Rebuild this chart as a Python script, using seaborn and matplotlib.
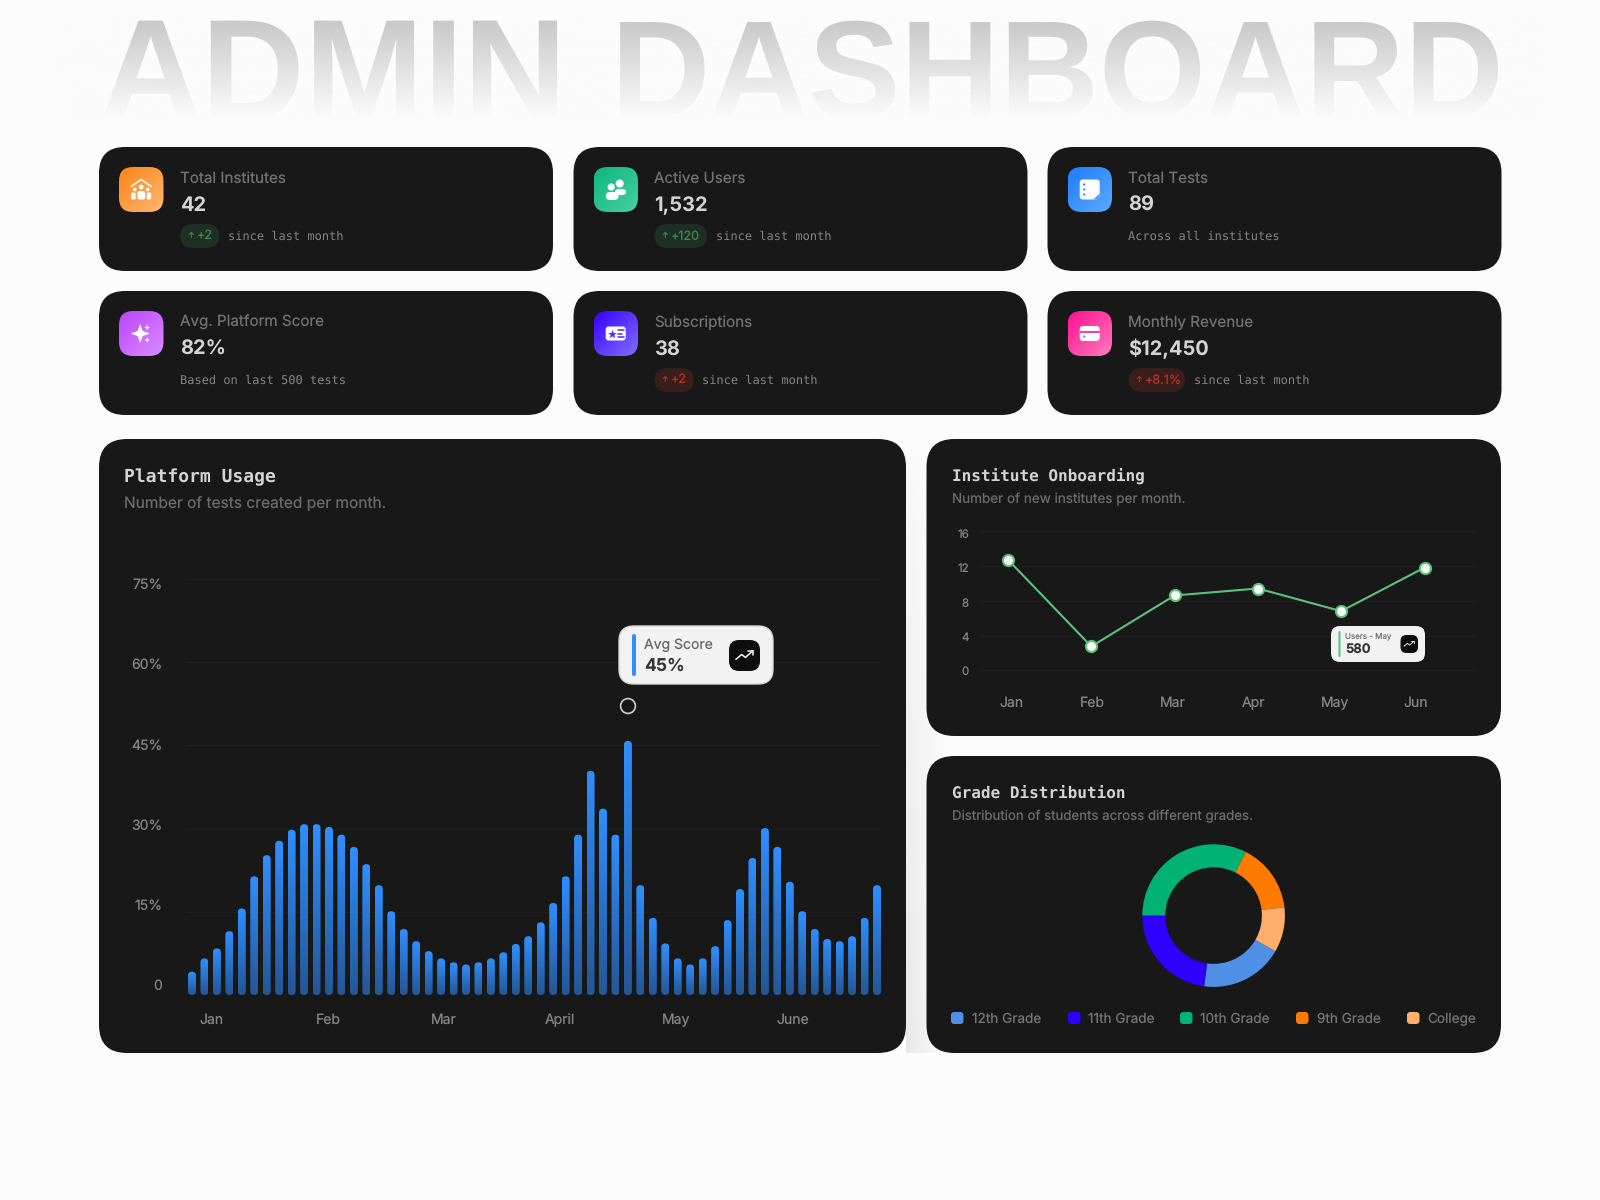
import numpy as np
import matplotlib
matplotlib.use('Agg')
import matplotlib.pyplot as plt
import seaborn as sns
from matplotlib.patches import FancyBboxPatch, Circle, Polygon
from matplotlib.colors import to_rgb

# data
card_labels = ['Total Institutes', 'Active Users', 'Total Tests',
               'Avg. Platform Score', 'Subscriptions', 'Monthly Revenue']
card_values = ['42', '1,532', '89', '82%', '38', '$12,450']
card_badges = ['+2', '+120', None, None, '+2', '+8.1%']
card_notes = ['since last month', 'since last month', 'Across all institutes',
              'Based on last 500 tests', 'since last month', 'since last month']

usage_values = [4.2, 6.6, 8.4, 11.5, 15.6, 21.4, 25.2, 27.8, 29.8, 30.8, 30.8, 30.3, 28.9, 26.7,
                23.6, 19.8, 15.1, 11.9, 9.7, 7.9, 6.6, 5.9, 5.5, 5.9, 6.6, 7.7, 9.2, 10.6,
                13.1, 16.6, 21.4, 28.9, 40.4, 33.6, 28.9, 45.8, 19.8, 13.9, 9.3, 6.6, 5.5, 6.6,
                8.8, 13.5, 19.1, 24.7, 30.1, 26.7, 20.4, 15.1, 11.9, 10.1, 9.7, 10.6, 13.9, 19.8]
usage_months = ['Jan', 'Feb', 'Mar', 'April', 'May', 'June']
usage_grid = [0, 15, 30, 45, 60, 75]
usage_ticks = ['0', '15%', '30%', '45%', '60%', '75%']

onboard_months = ['Jan', 'Feb', 'Mar', 'Apr', 'May', 'Jun']
onboard_values = [12.7, 2.75, 8.6, 9.4, 6.8, 11.8]
onboard_grid = [0, 4, 8, 12, 16]

grade_names = ['12th Grade', '11th Grade', '10th Grade', '9th Grade', 'College']
grade_values = [18.8, 22.9, 32.4, 15.7, 10.2]
grade_colors = ['#4F8FE6', '#2E00FF', '#00B274', '#FF7A00', '#FFAE6B']

BG = '#FCFCFC'
CARD = '#181818'
SANS = ['Inter', 'DejaVu Sans']
MONO = ['DejaVu Sans Mono']

sns.set_theme(style='white')
plt.rcParams['font.family'] = SANS
plt.rcParams['text.hinting'] = 'no_hinting'

fig = plt.figure(figsize=(16, 12), dpi=100, facecolor=BG)


def rect(l, t, r, b):
    return [l / 1600, 1 - b / 1200, (r - l) / 1600, (b - t) / 1200]


def pt(px):
    return px * 0.72


def overlay(z):
    a = fig.add_axes([0, 0, 1, 1], zorder=z)
    a.set_xlim(0, 1600)
    a.set_ylim(1200, 0)
    a.axis('off')
    return a


back = overlay(0)
front = overlay(3)


def rbox(a, l, t, r, b, rad, color, z=2, **kw):
    p = FancyBboxPatch((l, t), r - l, b - t, boxstyle=f'round,pad=0,rounding_size={rad}',
                       fc=color, ec=kw.pop('ec', 'none'), lw=kw.pop('lw', 0), zorder=z, **kw)
    a.add_patch(p)
    return p


def txt(a, x, y, s, px, color, family=SANS, weight='normal', ha='left', va='center', z=6):
    a.text(x, y, s, fontsize=pt(px), color=color, family=family, weight=weight,
           ha=ha, va=va, zorder=z)


def grad_box(a, l, t, r, b, rad, c1, c2, z=3):
    # diagonal gradient clipped to a rounded box
    n = 64
    u, v = np.meshgrid(np.linspace(0, 1, n), np.linspace(0, 1, n))
    m = ((u + v) / 2)[..., None]
    img = np.array(to_rgb(c1)) * (1 - m) + np.array(to_rgb(c2)) * m
    im = a.imshow(img, extent=(l, r, b, t), aspect='auto', zorder=z, interpolation='bilinear')
    clip = rbox(a, l, t, r, b, rad, 'none', z=z)
    im.set_clip_path(clip)


def trend_icon(a, cx, cy, s, z=9):
    a.plot([cx - 9 * s, cx - 3 * s, cx + 1 * s, cx + 9 * s],
           [cy + 4 * s, cy - 1 * s, cy + 2 * s, cy - 5 * s], color='#F0F0F0', lw=1.2 * s, zorder=z)
    a.plot([cx + 4 * s, cx + 9 * s, cx + 9 * s], [cy - 5 * s, cy - 5 * s, cy - 1 * s],
           color='#F0F0F0', lw=1.2 * s, zorder=z)


def star4(a, cx, cy, s, color='white', z=7):
    k = 0.27
    pts = [(0, -s), (k * s, -k * s), (s, 0), (k * s, k * s), (0, s), (-k * s, k * s), (-s, 0), (-k * s, -k * s)]
    a.add_patch(Polygon([(cx + x, cy + y) for x, y in pts], fc=color, ec='none', zorder=z))


def draw_icon(a, i, cx, cy):
    W = 'white'
    if i == 0:
        a.plot([cx - 10, cx, cx + 10], [cy - 3, cy - 10, cy - 3], color=W, lw=1.1, zorder=7)
        for dx, dy, r in [(0, -2.5, 2.4), (-6.5, 0, 1.8), (6.5, 0, 1.8)]:
            a.add_patch(Circle((cx + dx, cy + dy), r, fc=W, ec='none', zorder=7))
        rbox(a, cx - 4, cy + 1.5, cx + 4, cy + 10, 2.5, W, z=7)
        rbox(a, cx - 10, cy + 3, cx - 5.5, cy + 10, 1.5, W, z=7)
        rbox(a, cx + 5.5, cy + 3, cx + 10, cy + 10, 1.5, W, z=7)
    elif i == 1:
        a.add_patch(Circle((cx + 4, cy - 6), 4, fc=W, ec='none', zorder=7))
        a.add_patch(Circle((cx - 4.5, cy - 2.5), 3.6, fc=W, ec='none', zorder=7))
        rbox(a, cx - 1, cy - 0.5, cx + 10.5, cy + 5.5, 4, W, z=7)
        rbox(a, cx - 10, cy + 2.5, cx + 3, cy + 10.5, 4.5, W, z=7)
    elif i == 2:
        rbox(a, cx - 10, cy - 10, cx + 10, cy + 10, 3, W, z=7)
        for dy in [-5, 0, 5]:
            a.add_patch(Circle((cx - 5.5, cy + dy), 1.1, fc='#2A85FF', ec='none', zorder=8))
        a.add_patch(Polygon([(cx + 3.5, cy + 10), (cx + 10, cy + 4), (cx + 10, cy + 10)], fc='#4A9CFF', ec='none', zorder=8))
    elif i == 3:
        star4(a, cx - 1, cy, 9.5)
        star4(a, cx + 6, cy - 6, 3)
        star4(a, cx + 6, cy + 6.5, 3)
    elif i == 4:
        rbox(a, cx - 10, cy - 7, cx + 10, cy + 7, 3, W, z=7)
        a.scatter([cx - 4], [cy], marker='*', s=45, color='#4A2AFF', lw=0, zorder=8)
        for dy, w in [(-3.5, 6), (0, 4), (3.5, 6)]:
            a.plot([cx + 2, cx + 2 + w], [cy + dy, cy + dy], color='#4A2AFF', lw=1.1, zorder=8)
    else:
        rbox(a, cx - 10, cy - 7.5, cx + 10, cy + 7.5, 3.5, W, z=7)
        a.add_patch(plt.Rectangle((cx - 10, cy - 2.5), 20, 1.8, fc='#FF3FA4', ec='none', zorder=8))
        a.add_patch(Circle((cx - 5.5, cy + 3), 1.1, fc='#FF3FA4', ec='none', zorder=8))


# title with a fade into the page colour
back.text(333, 82, 'ADMIN', fontsize=103, color='#C6C6C6', weight='bold',
          family=['Liberation Sans'], ha='center', va='center', zorder=1)
back.text(1058, 81, 'DASHBOARD', fontsize=99, color='#C6C6C6', weight='bold',
          family=['Liberation Sans'], ha='center', va='center', zorder=1)
fade = np.zeros((128, 1, 4))
fade[..., :3] = to_rgb(BG)
fade[:, 0, 3] = np.linspace(0, 1, 128)
back.imshow(fade, extent=(60, 1540, 118, 16), aspect='auto', zorder=1.5)
# nothing of the letters below the fade
back.add_patch(plt.Rectangle((60, 118), 1480, 26, fc=BG, ec='none', zorder=1.6))

# soft shadow in the gap next to the big card, stronger towards the bottom
u, v = np.meshgrid(np.linspace(0, 1, 64), np.linspace(0, 1, 64))
shade = np.zeros((64, 64, 4))
shade[..., :3] = to_rgb('#C4C4C4')
shade[..., 3] = 0.36 * (1 - u) * v ** 0.6
back.imshow(shade, extent=(906, 945, 1053, 445), aspect='auto', zorder=1.5, interpolation='bilinear')

# stat cards
card_x = [99, 573.5, 1047.5]
card_y = [147, 291]
icon_cols = [('#FF8414', '#FFB874'), ('#0DB77D', '#4ACFA2'), ('#1B7DFF', '#5FAAFF'),
             ('#BB45FF', '#DB8CFF'), ('#3300FF', '#8470FF'), ('#FF0F8F', '#FF7CC0')]
badge_cols = [('#1E2F24', '#3F8A55'), ('#1E2F24', '#3F8A55'), None, None,
              ('#3A1E1C', '#B8322A'), ('#3A1E1C', '#B8322A')]
badge_w = [39.5, 52.5, 0, 0, 39.5, 56.5]

for i in range(6):
    l = card_x[i % 3]
    t = card_y[i // 3]
    rbox(back, l, t, l + 454, t + 124, 26, CARD)
    grad_box(back, l + 20, t + 20, l + 64.5, t + 65, 14, *icon_cols[i])
    draw_icon(back, i, l + 42.2, t + 42.5)
    tx = l + 81
    txt(back, tx, t + 31.5, card_labels[i], 15.2, '#727272')
    txt(back, tx, t + 58.5, card_values[i], 20, '#D4D4D4', weight='bold')
    if card_badges[i] is not None:
        bg_c, fg_c = badge_cols[i]
        rbox(back, tx, t + 77, tx + badge_w[i], t + 101, 13, bg_c, z=4)
        txt(back, tx + 7, t + 89, '↑', 8, fg_c)
        txt(back, tx + 16.5, t + 89, card_badges[i], 12.6, fg_c)
        txt(back, tx + badge_w[i] + 8.5, t + 89, card_notes[i], 12, '#858585', family=MONO)
    else:
        txt(back, tx, t + 89, card_notes[i], 12, '#858585', family=MONO)

# big cards
rbox(back, 99, 439, 906, 1053, 28, CARD)
rbox(back, 926.5, 439, 1501, 736, 28, CARD)
rbox(back, 926.5, 756, 1501, 1053, 28, CARD)
txt(back, 124.5, 477, 'Platform Usage', 18, '#D4D4D4', family=MONO, weight='bold')
txt(back, 124.5, 503, 'Number of tests created per month.', 15.5, '#6C6C6C')
txt(back, 951.5, 475.5, 'Institute Onboarding', 16, '#D4D4D4', family=MONO, weight='bold')
txt(back, 951.5, 499, 'Number of new institutes per month.', 13.5, '#6C6C6C')
txt(back, 951.5, 793, 'Grade Distribution', 16, '#D4D4D4', family=MONO, weight='bold')
txt(back, 951.5, 816.5, 'Distribution of students across different grades.', 13.3, '#6C6C6C')

# platform usage bars
px_l, px_r, px_b, px_t = 186, 881, 995, 579
bar_step = (877 - 192) / 55
ax = fig.add_axes(rect(px_l, px_t, px_r, px_b), zorder=1)
ax.patch.set_visible(False)
sns.barplot(x=list(range(len(usage_values))), y=usage_values, color='#2F8CFF', saturation=1,
            width=8 / bar_step, ax=ax, legend=False)
x0 = -(192 - px_l) / bar_step
x1 = x0 + (px_r - px_l) / bar_step
y_per_px = 75 / (px_b - px_t)
x_per_px = 1 / bar_step
ramp = np.zeros((64, 1, 3))
for c in range(3):
    ramp[:, 0, c] = np.linspace(to_rgb('#2F8FFF')[c], to_rgb('#245796')[c], 64)
for bar in list(ax.patches):
    bx, bw, bh = bar.get_x(), bar.get_width(), bar.get_height()
    bar.set_visible(False)
    shape = FancyBboxPatch((bx, 0), bw, bh, boxstyle=f'round,pad=0,rounding_size={4 * x_per_px}',
                           mutation_aspect=y_per_px / x_per_px, fc='none', ec='none', zorder=3)
    ax.add_patch(shape)
    im = ax.imshow(ramp, extent=(bx, bx + bw, 0, bh), aspect='auto', zorder=3, interpolation='bilinear')
    im.set_clip_path(shape)
ax.hlines(usage_grid, x0, x1, color='#1F1F1F', lw=0.7, zorder=1)
ax.set_xlim(x0, x1)
ax.set_ylim(0, 75)
# labels in the reference do not sit exactly on the grid
usage_label_px = [985, 905, 825, 744.5, 663.5, 583.5]
ax.set_yticks([(px_b - p) * y_per_px for p in usage_label_px], usage_ticks)
month_px = [212, 328, 444, 560, 676.5, 793]
ax.set_xticks([(p - 192) / bar_step for p in month_px], usage_months)
ax.tick_params(axis='y', length=0, pad=pt(23.5), labelsize=pt(14), labelcolor='#858585')
ax.tick_params(axis='x', length=0, pad=pt(18.5), labelsize=pt(14), labelcolor='#858585')
ax.set_xlabel('')
ax.set_ylabel('')
sns.despine(ax=ax, left=True, bottom=True)

# tooltip of the bars
rbox(front, 619, 626, 773, 684, 15, '#F2F2F2', ec='#D8D8D8', lw=1)
rbox(front, 632, 634, 636, 676, 2, '#2F8FFF', z=5)
txt(front, 644.5, 645, 'Avg Score', 14, '#666666')
txt(front, 644.5, 666, '45%', 17.5, '#333333', weight='bold')
rbox(front, 729, 640, 760, 671, 10, '#0E0E0E', z=5)
trend_icon(front, 744.5, 655.5, 0.95)
front.add_patch(Circle((628, 706), 7.4, fc='none', ec='#CFCFCF', lw=1.2, zorder=5))

# onboarding line
ol, or_, ob, ot = 980, 1476, 670.7, 531
step = (1424.5 - 1008) / 5
ax2 = fig.add_axes(rect(ol, ot, or_, ob), zorder=1)
ax2.patch.set_visible(False)
sns.lineplot(x=list(range(6)), y=onboard_values, color='#5CC27A', lw=1.5, marker='o', markersize=8,
             markerfacecolor='#F4FFF6', markeredgecolor='#5CC27A', markeredgewidth=1.5,
             ax=ax2, zorder=4, clip_on=False)
ox0 = -(1008 - ol) / step
ax2.set_xlim(ox0, ox0 + (or_ - ol) / step)
ax2.set_ylim(0, 16)
ax2.hlines(onboard_grid, *ax2.get_xlim(), color='#1F1F1F', lw=0.7, zorder=1)
onb_label_px = [671, 636.7, 602.3, 567.7, 533.3]
ax2.set_yticks([(ob - p) * 16 / (ob - ot) for p in onb_label_px], [str(v) for v in onboard_grid])
onb_month_px = [1011.5, 1092, 1173, 1254, 1335, 1416]
ax2.set_xticks([(p - 1008) / step for p in onb_month_px], onboard_months)
ax2.tick_params(axis='y', length=0, pad=pt(11), labelsize=pt(11.5), labelcolor='#858585')
ax2.tick_params(axis='x', length=0, pad=pt(25.5), labelsize=pt(14), labelcolor='#858585')
sns.despine(ax=ax2, left=True, bottom=True)

rbox(front, 1331, 626, 1425, 662, 9, '#F2F2F2')
rbox(front, 1338.5, 631, 1340.5, 657, 1, '#5CC27A', z=5)
txt(front, 1345, 636, 'Users - May', 8, '#777777')
txt(front, 1345, 649.5, '580', 13, '#333333', weight='bold')
rbox(front, 1400.5, 635, 1418, 653, 6, '#0E0E0E', z=5)
trend_icon(front, 1409, 644, 0.55)

# donut
cx, cy, rad = 1213.6, 915.6, 71.3
ax3 = fig.add_axes(rect(cx - rad, cy - rad, cx + rad, cy + rad), zorder=1)
ax3.pie(grade_values, colors=grade_colors, startangle=-30, counterclock=False, radius=1,
        wedgeprops=dict(width=23 / rad, linewidth=0))
ax3.set_xlim(-1, 1)
ax3.set_ylim(-1, 1)

swatch_x = [951, 1068, 1180, 1296, 1407]
label_x = [971.5, 1087.5, 1200.5, 1317, 1427]
for sx, lx, name, col in zip(swatch_x, label_x, grade_names, grade_colors):
    rbox(back, sx, 1012, sx + 12.5, 1024, 3.5, col, z=4)
    txt(back, lx, 1023, name, 13.6, '#757575', va='baseline')

back.set_xlim(0, 1600)
back.set_ylim(1200, 0)
front.set_xlim(0, 1600)
front.set_ylim(1200, 0)

fig.savefig('out.png', dpi=100, facecolor=BG)
